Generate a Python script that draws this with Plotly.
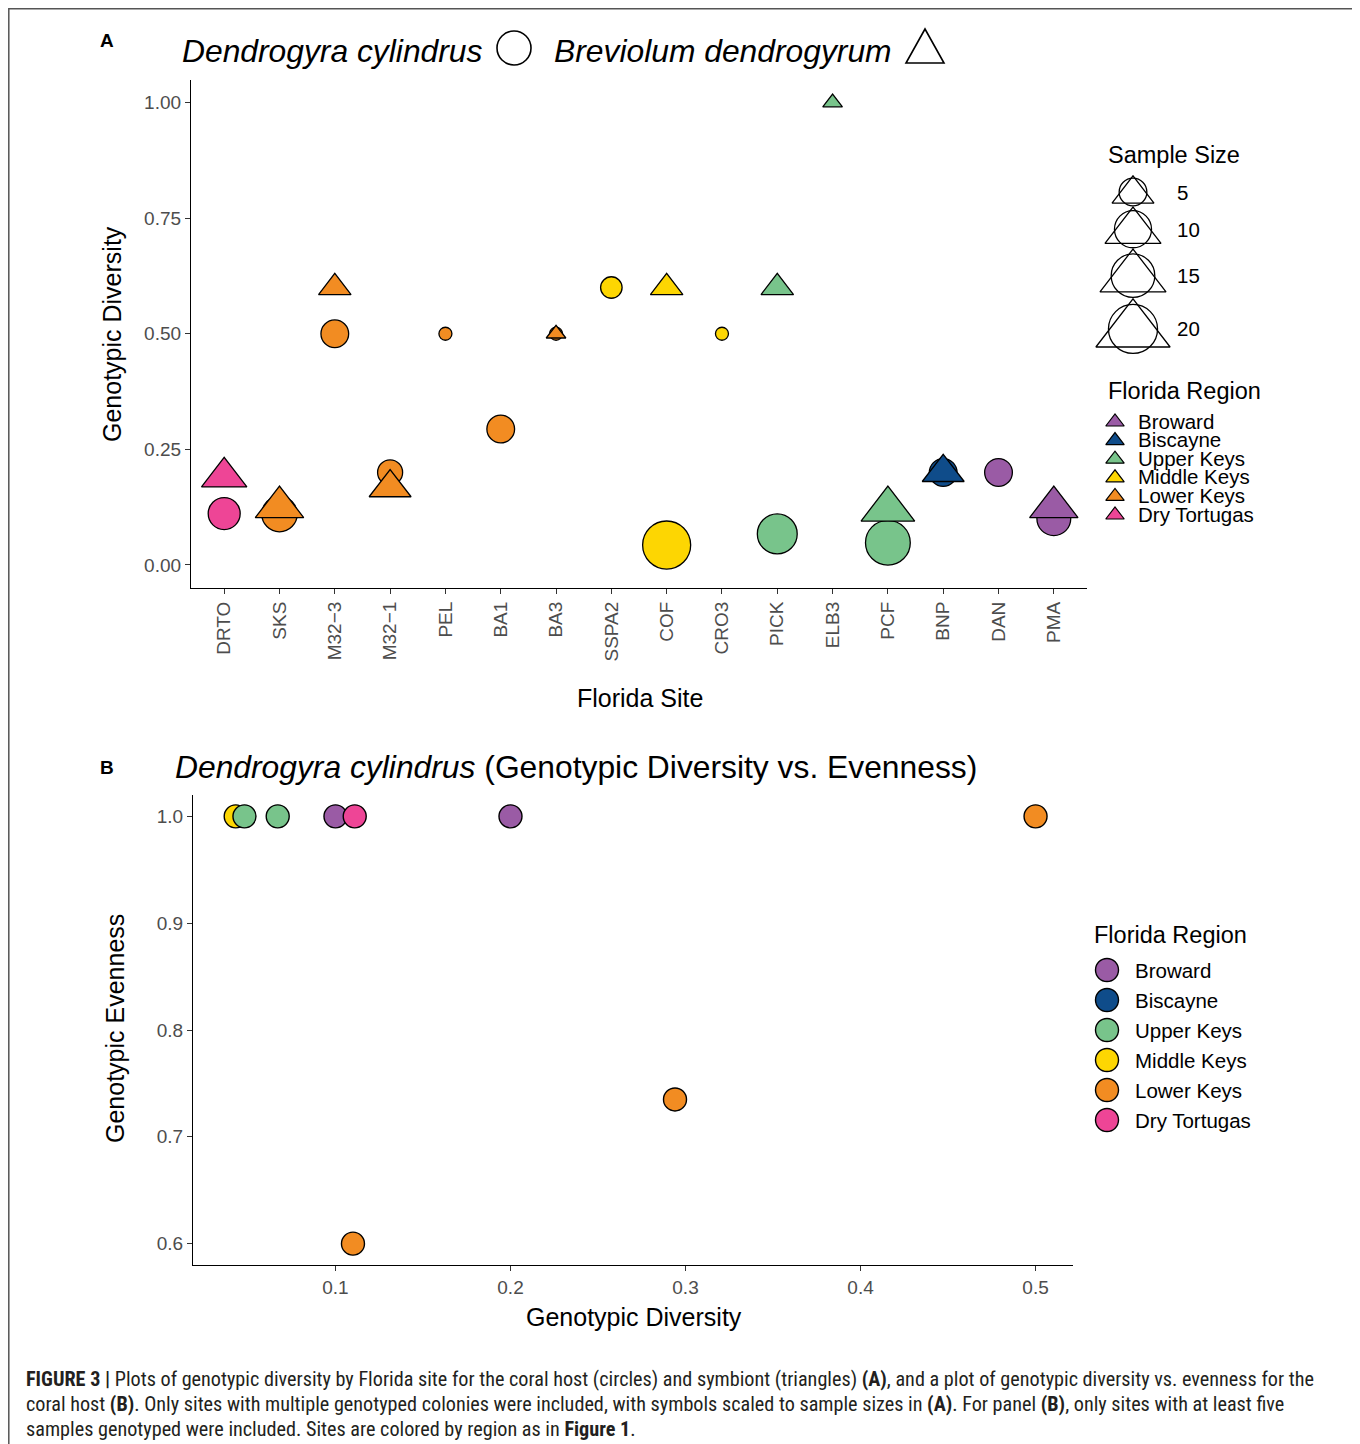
import numpy as np
import plotly.graph_objects as go

# page body has an 8px margin; work in reference-window pixel coordinates
OFF = 8
W, H = 1360 - OFF, 1444 - OFF
FONT = "Liberation Sans, Arial, Helvetica, sans-serif"
CAPFONT = "Liberation Sans Narrow, Roboto Condensed, Liberation Sans, Arial, sans-serif"

# ---------------- data: panel A ----------------
sites = ["DRTO", "SKS", "M32\u22123", "M32\u22121", "PEL", "BA1", "BA3", "SSPA2",
         "COF", "CRO3", "PICK", "ELB3", "PCF", "BNP", "DAN", "PMA"]
site_region = ["Dry Tortugas", "Lower Keys", "Lower Keys", "Lower Keys", "Lower Keys",
               "Lower Keys", "Lower Keys", "Middle Keys", "Middle Keys", "Middle Keys",
               "Upper Keys", "Upper Keys", "Upper Keys", "Biscayne", "Broward", "Broward"]
# coral host (Dendrogyra cylindrus) - circles
host_diversity = [0.111, 0.11, 0.50, 0.20, 0.50, 0.294, 0.50, 0.60, 0.043, 0.50,
                  0.067, None, 0.048, 0.20, 0.20, 0.10]
host_n = [7, 9, 5, 4, 2, 5, 2, 3, 19, 2, 12, None, 16, 5, 5, 8]
# symbiont (Breviolum dendrogyrum) - triangles
symb_diversity = [0.19, 0.125, 0.60, 0.167, None, None, 0.50, None, 0.60, None,
                  0.60, 1.00, 0.12, 0.20, None, 0.125]
symb_n = [6, 7, 3, 5, None, None, 2, None, 3, None, 3, 2, 9, 5, None, 7]

# ---------------- data: panel B ----------------
b_diversity = [0.043, 0.048, 0.067, 0.10, 0.111, 0.20, 0.50, 0.294, 0.11]
b_evenness = [1.0, 1.0, 1.0, 1.0, 1.0, 1.0, 1.0, 0.735, 0.60]
b_region = ["Middle Keys", "Upper Keys", "Upper Keys", "Broward", "Dry Tortugas",
            "Broward", "Lower Keys", "Lower Keys", "Lower Keys"]

regions = ["Broward", "Biscayne", "Upper Keys", "Middle Keys", "Lower Keys", "Dry Tortugas"]
region_colors = {"Broward": "#9A5BA5", "Biscayne": "#0F4C8A", "Upper Keys": "#78C48B",
                 "Middle Keys": "#FDD602", "Lower Keys": "#F28C22", "Dry Tortugas": "#EE4596"}
size_legend_values = [5, 10, 15, 20]

a_yticks = [0.0, 0.25, 0.5, 0.75, 1.0]
a_yticklabels = ["0.00", "0.25", "0.50", "0.75", "1.00"]
b_xticks = [0.1, 0.2, 0.3, 0.4, 0.5]
b_xticklabels = ["0.1", "0.2", "0.3", "0.4", "0.5"]
b_yticks = [0.6, 0.7, 0.8, 0.9, 1.0]
b_yticklabels = ["0.6", "0.7", "0.8", "0.9", "1.0"]

# ---------------- size scale ----------------
all_n = [n for n in host_n + symb_n if n is not None]
N_MIN = min(all_n)


def diam(n):
    return 13 + 8.5 * np.sqrt(n - N_MIN)


def tri(n):
    return 1.31 * diam(n)


def px(x):
    return (x - OFF) / W


def py(y):
    return 1 - (y - OFF) / H


fig = go.Figure()

# circles (host)
hx = [s for s, v in zip(sites, host_diversity) if v is not None]
hy = [v for v in host_diversity if v is not None]
hs = [diam(n) for n in host_n if n is not None]
hc = [region_colors[r] for r, v in zip(site_region, host_diversity) if v is not None]
fig.add_trace(go.Scatter(x=hx, y=hy, mode="markers", xaxis="x", yaxis="y",
                         marker=dict(symbol="circle", size=hs, color=hc, opacity=1,
                                     line=dict(color="black", width=1.3)),
                         cliponaxis=False, showlegend=False))
# triangles (symbiont)
sx = [s for s, v in zip(sites, symb_diversity) if v is not None]
sy = [v for v in symb_diversity if v is not None]
ss = [tri(n) for n in symb_n if n is not None]
sc = [region_colors[r] for r, v in zip(site_region, symb_diversity) if v is not None]
fig.add_trace(go.Scatter(x=sx, y=sy, mode="markers", xaxis="x", yaxis="y",
                         marker=dict(symbol="triangle-up", size=ss, color=sc, opacity=1,
                                     line=dict(color="black", width=1.3)),
                         cliponaxis=False, showlegend=False))

# panel B
fig.add_trace(go.Scatter(x=b_diversity, y=b_evenness, mode="markers", xaxis="x2", yaxis="y2",
                         marker=dict(symbol="circle", size=23, opacity=1,
                                     color=[region_colors[r] for r in b_region],
                                     line=dict(color="black", width=1.4)),
                         cliponaxis=False, showlegend=False))

# ---------------- legends (drawn on a pixel-unit overlay axis) ----------------
annotations = []


def ann(text, x, y, size, xanchor="left", yanchor="middle", color="black", family=FONT,
        angle=0):
    annotations.append(dict(text=text, x=x, y=y, xref="x3", yref="y3", showarrow=False,
                            xanchor=xanchor, yanchor=yanchor, textangle=angle,
                            font=dict(size=size, color=color, family=family)))


# Sample size legend
leg_d = [diam(n) for n in size_legend_values]
key_h = [1.15 * d for d in leg_d]
centers = [192.0]
for i in range(1, len(leg_d)):
    centers.append(centers[-1] + (key_h[i - 1] + key_h[i]) / 2)
ann("Sample Size", 1106, 155, 23.5)
fig.add_trace(go.Scatter(x=[1133] * 4, y=centers, mode="markers", xaxis="x3", yaxis="y3",
                         marker=dict(symbol="circle", size=leg_d, color="rgba(0,0,0,0)",
                                     opacity=1, line=dict(color="black", width=1.3)),
                         showlegend=False, hoverinfo="skip"))
fig.add_trace(go.Scatter(x=[1133] * 4, y=[c + 2 for c in centers], mode="markers",
                         xaxis="x3", yaxis="y3",
                         marker=dict(symbol="triangle-up", size=[1.31 * d for d in leg_d],
                                     color="rgba(0,0,0,0)", opacity=1,
                                     line=dict(color="black", width=1.3)),
                         showlegend=False, hoverinfo="skip"))
for v, c in zip(size_legend_values, centers):
    ann(str(v), 1175, c, 20.5)

# Florida region legend (panel A)
ann("Florida Region", 1106, 391, 23.5)
ra_y = [421 + 18.6 * i for i in range(len(regions))]
fig.add_trace(go.Scatter(x=[1115] * len(regions), y=[y + 1 for y in ra_y], mode="markers",
                         xaxis="x3", yaxis="y3",
                         marker=dict(symbol="triangle-up", size=16, opacity=1,
                                     color=[region_colors[r] for r in regions],
                                     line=dict(color="black", width=1.2)),
                         showlegend=False, hoverinfo="skip"))
for r, y in zip(regions, ra_y):
    ann(r, 1136, y, 20.5)

# Florida region legend (panel B)
ann("Florida Region", 1092, 935, 23.5)
rb_y = [970 + 30 * i for i in range(len(regions))]
fig.add_trace(go.Scatter(x=[1107] * len(regions), y=rb_y, mode="markers",
                         xaxis="x3", yaxis="y3",
                         marker=dict(symbol="circle", size=23, opacity=1,
                                     color=[region_colors[r] for r in regions],
                                     line=dict(color="black", width=1.4)),
                         showlegend=False, hoverinfo="skip"))
for r, y in zip(regions, rb_y):
    ann(r, 1133, y, 20.5)

# ---------------- titles and labels ----------------
ann("<b>A</b>", 107, 40, 19, xanchor="center")
ann("<i>Dendrogyra cylindrus</i>", 180, 51, 31.8)
ann("<i>Breviolum dendrogyrum</i>", 552, 51, 31.8)
ann("<b>B</b>", 107, 767, 19, xanchor="center")
ann("<i>Dendrogyra cylindrus</i> (Genotypic Diversity vs. Evenness)", 173, 767, 31.8)

ann("Genotypic Diversity", 112, 334, 25, xanchor="center", angle=-90)
ann("Florida Site", 640, 698, 25, xanchor="center")
ann("Genotypic Evenness", 115, 1029, 25, xanchor="center", angle=-90)
ann("Genotypic Diversity", 634, 1317, 25, xanchor="center")

cap_col = "#231F20"
ann("<b>FIGURE 3 |</b> Plots of genotypic diversity by Florida site for the coral host (circles) "
    "and symbiont (triangles) <b>(A)</b>, and a plot of genotypic diversity vs. evenness for the",
    24, 1379, 20.2, color=cap_col, family=CAPFONT)
ann("coral host <b>(B)</b>. Only sites with multiple genotyped colonies were included, with symbols "
    "scaled to sample sizes in <b>(A)</b>. For panel <b>(B)</b>, only sites with at least five",
    24, 1404, 20.2, color=cap_col, family=CAPFONT)
ann("samples genotyped were included. Sites are colored by region as in <b>Figure 1</b>.",
    24, 1429, 20.2, color=cap_col, family=CAPFONT)

shapes = [
    dict(type="rect", xref="paper", yref="paper", x0=px(8.8), x1=px(1356), y0=-0.02,
         y1=py(8.8), line=dict(color="#555555", width=1.5), fillcolor="rgba(0,0,0,0)",
         layer="above"),
    dict(type="circle", xref="x3", yref="y3", x0=497, x1=531, y0=31, y1=65,
         line=dict(color="black", width=1.6)),
    dict(type="path", xref="x3", yref="y3", path="M 906 63 L 944 63 L 925 29 Z",
         line=dict(color="black", width=1.6)),
]

axis_common = dict(showline=True, linecolor="black", linewidth=1.2, ticks="outside",
                   ticklen=5, tickwidth=1.1, tickcolor="#333333", showgrid=False,
                   zeroline=False, tickfont=dict(size=19, color="#4D4D4D", family=FONT))

fig.update_layout(
    width=W, height=H,
    margin=dict(l=0, r=0, t=0, b=0),
    paper_bgcolor="white", plot_bgcolor="rgba(0,0,0,0)",
    font=dict(family=FONT, color="black"),
    showlegend=False,
    xaxis=dict(domain=[px(191), px(1087)], anchor="y", type="category",
               categoryorder="array", categoryarray=sites, range=[-0.6, 15.6],
               tickangle=-90, **axis_common),
    yaxis=dict(domain=[py(588), py(79.5)], anchor="x", range=[-0.05, 1.05],
               tickvals=a_yticks, ticktext=a_yticklabels, **axis_common),
    xaxis2=dict(domain=[px(193), px(1073)], anchor="y2", range=[0.0186, 0.5214],
                tickvals=b_xticks, ticktext=b_xticklabels, **axis_common),
    yaxis2=dict(domain=[py(1265), py(795)], anchor="x2", range=[0.58, 1.02],
                tickvals=b_yticks, ticktext=b_yticklabels, **axis_common),
    xaxis3=dict(domain=[0, 1], anchor="y3", range=[OFF, OFF + W], visible=False,
                fixedrange=True),
    yaxis3=dict(domain=[0, 1], anchor="x3", range=[OFF + H, OFF], visible=False,
                fixedrange=True),
    annotations=annotations,
    shapes=shapes,
)

fig.write_html("out.html")
